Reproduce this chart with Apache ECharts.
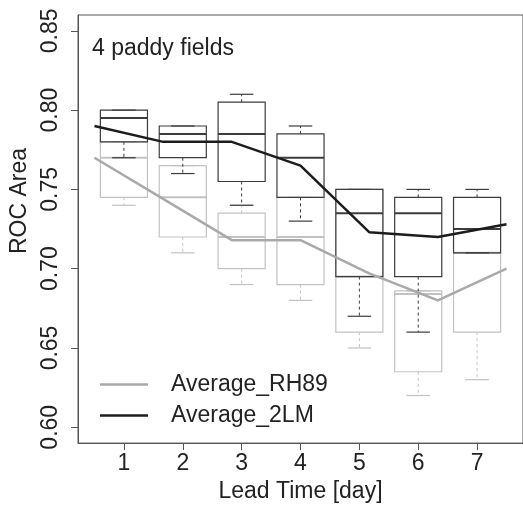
<!DOCTYPE html>
<html>
<head>
<meta charset="utf-8">
<script src="https://cdn.jsdelivr.net/npm/echarts@6/dist/echarts.min.js"></script>
<style>html,body{margin:0;padding:0;background:#fff;}#c{width:523px;height:508px;}</style>
</head>
<body>
<div id="c"></div>
<script>
// ---- data ----
const leadTimes = [1, 2, 3, 4, 5, 6, 7];
const yTicks = [0.60, 0.65, 0.70, 0.75, 0.80, 0.85];
// box statistics: [min, Q1, median, Q3, max]
const boxRH89 = [
  [0.740, 0.745, 0.770, 0.780, 0.780],
  [0.710, 0.720, 0.745, 0.765, 0.765],
  [0.690, 0.700, 0.720, 0.735, 0.740],
  [0.680, 0.690, 0.720, 0.745, 0.745],
  [0.650, 0.660, 0.695, 0.750, 0.750],
  [0.620, 0.635, 0.684, 0.686, 0.686],
  [0.630, 0.660, 0.710, 0.710, 0.710]
];
const box2LM = [
  [0.770, 0.780, 0.795, 0.800, 0.800],
  [0.760, 0.770, 0.785, 0.790, 0.790],
  [0.740, 0.755, 0.785, 0.805, 0.810],
  [0.730, 0.745, 0.770, 0.785, 0.790],
  [0.670, 0.695, 0.735, 0.750, 0.750],
  [0.660, 0.695, 0.735, 0.745, 0.750],
  [0.710, 0.710, 0.725, 0.745, 0.750]
];
const avgRH89 = [0.770, 0.744, 0.718, 0.718, 0.697, 0.680, 0.700];
const avg2LM = [0.790, 0.780, 0.780, 0.765, 0.723, 0.720, 0.728];
const nameRH89 = 'Average_RH89';
const name2LM = 'Average_2LM';

// ---- chart ----
const FONT = 'Liberation Sans, Arial, Helvetica, sans-serif';
const TXT = '#222';
const FS = 23;
const chart = echarts.init(document.getElementById('c'), null, {renderer: 'canvas'});

function boxRenderer(color, whiskerColor) {
  return function (params, api) {
    const x = api.value(0);
    const lo = api.coord([x, api.value(1)]);
    const q1 = api.coord([x, api.value(2)]);
    const md = api.coord([x, api.value(3)]);
    const q3 = api.coord([x, api.value(4)]);
    const hi = api.coord([x, api.value(5)]);
    const w = api.size([0.8, 0])[0];
    const cx = lo[0];
    const solid = {stroke: color, lineWidth: 1.2, fill: null};
    const dashed = {stroke: whiskerColor, lineWidth: 1, lineDash: [3, 3], fill: null};
    const cap = {stroke: whiskerColor, lineWidth: 1.2, fill: null};
    return {
      type: 'group',
      children: [
        {type: 'line', shape: {x1: cx, y1: q3[1], x2: cx, y2: hi[1]}, style: dashed},
        {type: 'line', shape: {x1: cx, y1: q1[1], x2: cx, y2: lo[1]}, style: dashed},
        {type: 'line', shape: {x1: cx - w / 4, y1: hi[1], x2: cx + w / 4, y2: hi[1]}, style: cap},
        {type: 'line', shape: {x1: cx - w / 4, y1: lo[1], x2: cx + w / 4, y2: lo[1]}, style: cap},
        {type: 'rect', shape: {x: cx - w / 2, y: q3[1], width: w, height: q1[1] - q3[1]}, style: solid},
        {type: 'line', shape: {x1: cx - w / 2, y1: md[1], x2: cx + w / 2, y2: md[1]}, style: {stroke: color, lineWidth: 2}}
      ]
    };
  };
}

const option = {
  animation: false,
  backgroundColor: '#fff',
  textStyle: {fontFamily: FONT},
  title: {
    text: '4 paddy fields',
    left: 87, top: 32,
    textStyle: {fontFamily: FONT, fontSize: FS, fontWeight: 'normal', color: TXT}
  },
  legend: {
    orient: 'vertical',
    left: 95, top: 368,
    icon: 'rect',
    itemWidth: 48, itemHeight: 2.5,
    itemGap: 8,
    data: [nameRH89, name2LM],
    textStyle: {fontFamily: FONT, fontSize: FS, color: TXT, padding: [0, 0, 0, 18]}
  },
  graphic: [{
    type: 'text', left: 8, top: 203 - 55, rotation: Math.PI / 2,
    style: {text: 'ROC Area', font: FS + 'px ' + FONT, fill: TXT, align: 'center', verticalAlign: 'middle'},
    x: 20, y: 203, position: [20, 203]
  }],
  grid: {left: 78, top: 15, width: 447, height: 432, show: true, borderColor: '#555', borderWidth: 1, backgroundColor: 'transparent'},
  xAxis: [
    {
      type: 'value', min: 0.22, max: 7.78,
      name: 'Lead Time [day]', nameLocation: 'middle', nameGap: 35,
      nameTextStyle: {fontFamily: FONT, fontSize: FS, color: TXT},
      axisLine: {show: true, lineStyle: {color: '#555'}},
      axisTick: {show: true, customValues: leadTimes, length: 7, lineStyle: {color: '#555'}},
      axisLabel: {customValues: leadTimes, margin: 9, fontFamily: FONT, fontSize: FS, color: TXT},
      splitLine: {show: false}
    },
    {type: 'value', min: 0.76, max: 7.24, show: false, splitLine: {show: false}}
  ],
  yAxis: {
    type: 'value', min: 0.59, max: 0.86,
    axisLine: {show: true, lineStyle: {color: '#555'}},
    axisTick: {show: true, customValues: yTicks, length: 7, lineStyle: {color: '#555'}},
    axisLabel: {customValues: yTicks, rotate: 90, margin: 16, fontFamily: FONT, fontSize: FS, color: TXT,
      formatter: v => v.toFixed(2)},
    splitLine: {show: false}
  },
  series: [
    {
      type: 'custom', name: 'RH89 box', xAxisIndex: 0, yAxisIndex: 0,
      renderItem: boxRenderer('#c2c2c2', '#c2c2c2'),
      data: leadTimes.map((t, i) => [t].concat(boxRH89[i])),
      z: 2, silent: true
    },
    {
      type: 'custom', name: '2LM box', xAxisIndex: 0, yAxisIndex: 0,
      renderItem: boxRenderer('#3c3c3c', '#3c3c3c'),
      data: leadTimes.map((t, i) => [t].concat(box2LM[i])),
      z: 3, silent: true
    },
    {
      type: 'line', name: nameRH89, xAxisIndex: 1, yAxisIndex: 0,
      data: leadTimes.map((t, i) => [t, avgRH89[i]]),
      symbol: 'none', color: '#a9a9a9',
      lineStyle: {color: '#a9a9a9', width: 2.5}, z: 4
    },
    {
      type: 'line', name: name2LM, xAxisIndex: 1, yAxisIndex: 0,
      data: leadTimes.map((t, i) => [t, avg2LM[i]]),
      symbol: 'none', color: '#1c1c1c',
      lineStyle: {color: '#1c1c1c', width: 2.5}, z: 5
    }
  ]
};
chart.setOption(option);
</script>
</body>
</html>
